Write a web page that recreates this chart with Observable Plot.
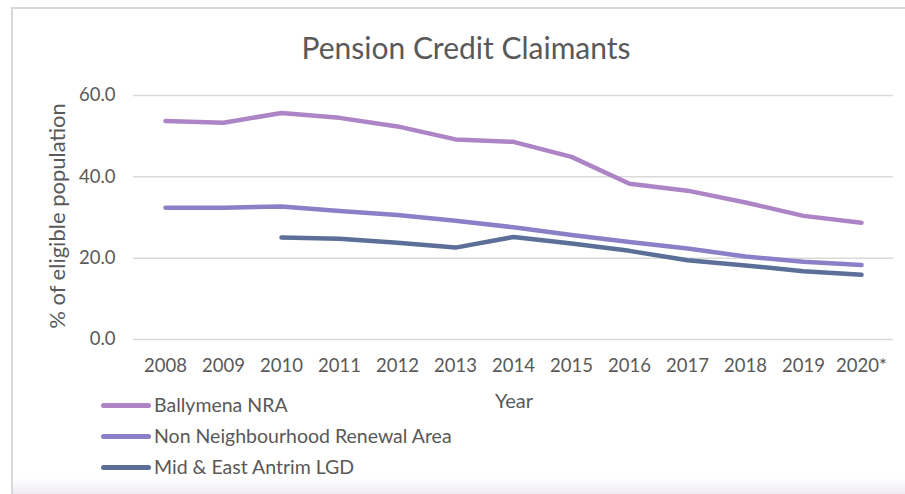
<!DOCTYPE html>
<html>
<head>
<meta charset="utf-8">
<script src="https://cdn.jsdelivr.net/npm/d3@7"></script>
<script src="https://cdn.jsdelivr.net/npm/@observablehq/plot@0.6"></script>
<style>
  html, body { margin: 0; padding: 0; background: #ffffff; }
  #wrap { position: relative; width: 905px; height: 494px; overflow: hidden; font-family: Lato, "Open Sans", sans-serif; color: #595959; }
  #frameTop { position: absolute; left: 11px; top: 7px; width: 894px; height: 2px; background: #d9d9d9; }
  #frameLeft { position: absolute; left: 11px; top: 7px; width: 2px; height: 487px; background: #d9d9d9; }
  #bottomStrip { position: absolute; left: 13px; top: 478px; width: 892px; height: 16px; background: linear-gradient(#ffffff, #efeaf5); }
  #chart { position: absolute; left: 0; top: 0; }
  .txt { position: absolute; white-space: nowrap; line-height: 1; }
  #title { left: 466px; top: 47px; transform: translate(-50%, -50%); font-size: 30px; }
  #ylab { left: 57px; top: 216px; transform: translate(-50%, -50%) rotate(-90deg); font-size: 22px; }
  #xlab { left: 514px; top: 400px; transform: translate(-50%, -50%); font-size: 20px; }
  .leg { position: absolute; left: 101px; height: 0; }
  .leg .sw { position: absolute; left: 0; top: -2.5px; width: 50px; height: 5px; border-radius: 3px; }
  .leg .lt { position: absolute; left: 53px; top: 0; transform: translateY(-50%); font-size: 19.5px; white-space: nowrap; line-height: 1; }
</style>
</head>
<body>
<div id="wrap">
  <div id="frameTop"></div>
  <div id="frameLeft"></div>
  <div id="bottomStrip"></div>
  <div id="chart"></div>
  <div class="txt" id="title">Pension Credit Claimants</div>
  <div class="txt" id="ylab">% of eligible population</div>
  <div class="txt" id="xlab">Year</div>
  <div id="legend"></div>
</div>
<script>
const years = ["2008","2009","2010","2011","2012","2013","2014","2015","2016","2017","2018","2019","2020*"];
const seriesNames = ["Ballymena NRA", "Non Neighbourhood Renewal Area", "Mid & East Antrim LGD"];
const seriesColors = ["#ad84c6", "#8a80c8", "#5b6f99"];
const ballymenaNRA = [53.7, 53.3, 55.7, 54.5, 52.4, 49.2, 48.6, 44.9, 38.3, 36.6, 33.7, 30.4, 28.7];
const nonNRA = [32.4, 32.4, 32.7, 31.6, 30.6, 29.2, 27.6, 25.7, 24.0, 22.4, 20.4, 19.1, 18.3];
const midEastAntrim = [null, null, 25.1, 24.8, 23.8, 22.6, 25.2, 23.6, 21.8, 19.5, 18.2, 16.8, 15.9];
const yTicks = [0, 20, 40, 60];

const allSeries = [ballymenaNRA, nonNRA, midEastAntrim];
const rows = [];
allSeries.forEach((vals, si) => {
  vals.forEach((v, i) => {
    if (v != null) rows.push({series: seriesNames[si], year: years[i], value: v});
  });
});

const chart = Plot.plot({
  width: 905,
  height: 494,
  marginLeft: 133,
  marginRight: 12,
  marginTop: 95,
  marginBottom: 155,
  style: {background: "transparent", fontFamily: "Lato, 'Open Sans', sans-serif", color: "#595959", overflow: "visible"},
  x: {type: "point", domain: years, padding: 0.5, label: null},
  y: {domain: [0, 60], label: null},
  color: {domain: seriesNames, range: seriesColors},
  marks: [
    Plot.gridY(yTicks, {stroke: "#d9d9d9", strokeOpacity: 1, strokeWidth: 1.5}),
    Plot.axisY(yTicks, {tickSize: 0, tickPadding: 18, tickFormat: d => d.toFixed(1), fontSize: 18.5, label: null, fill: "#595959"}),
    Plot.axisX(years, {tickSize: 0, tickPadding: 19, fontSize: 18.5, label: null, fill: "#595959"}),
    Plot.line(rows, {x: "year", y: "value", z: "series", stroke: "series", strokeWidth: 4.5, strokeLinecap: "round", strokeLinejoin: "round"})
  ]
});
document.getElementById("chart").appendChild(chart);

const legend = document.getElementById("legend");
const legY = [405, 436, 467];
seriesNames.forEach((name, i) => {
  const item = document.createElement("div");
  item.className = "leg";
  item.style.top = legY[i] + "px";
  const sw = document.createElement("div");
  sw.className = "sw";
  sw.style.background = seriesColors[i];
  const lt = document.createElement("div");
  lt.className = "lt";
  lt.textContent = name;
  item.appendChild(sw);
  item.appendChild(lt);
  legend.appendChild(item);
});
</script>
</body>
</html>
